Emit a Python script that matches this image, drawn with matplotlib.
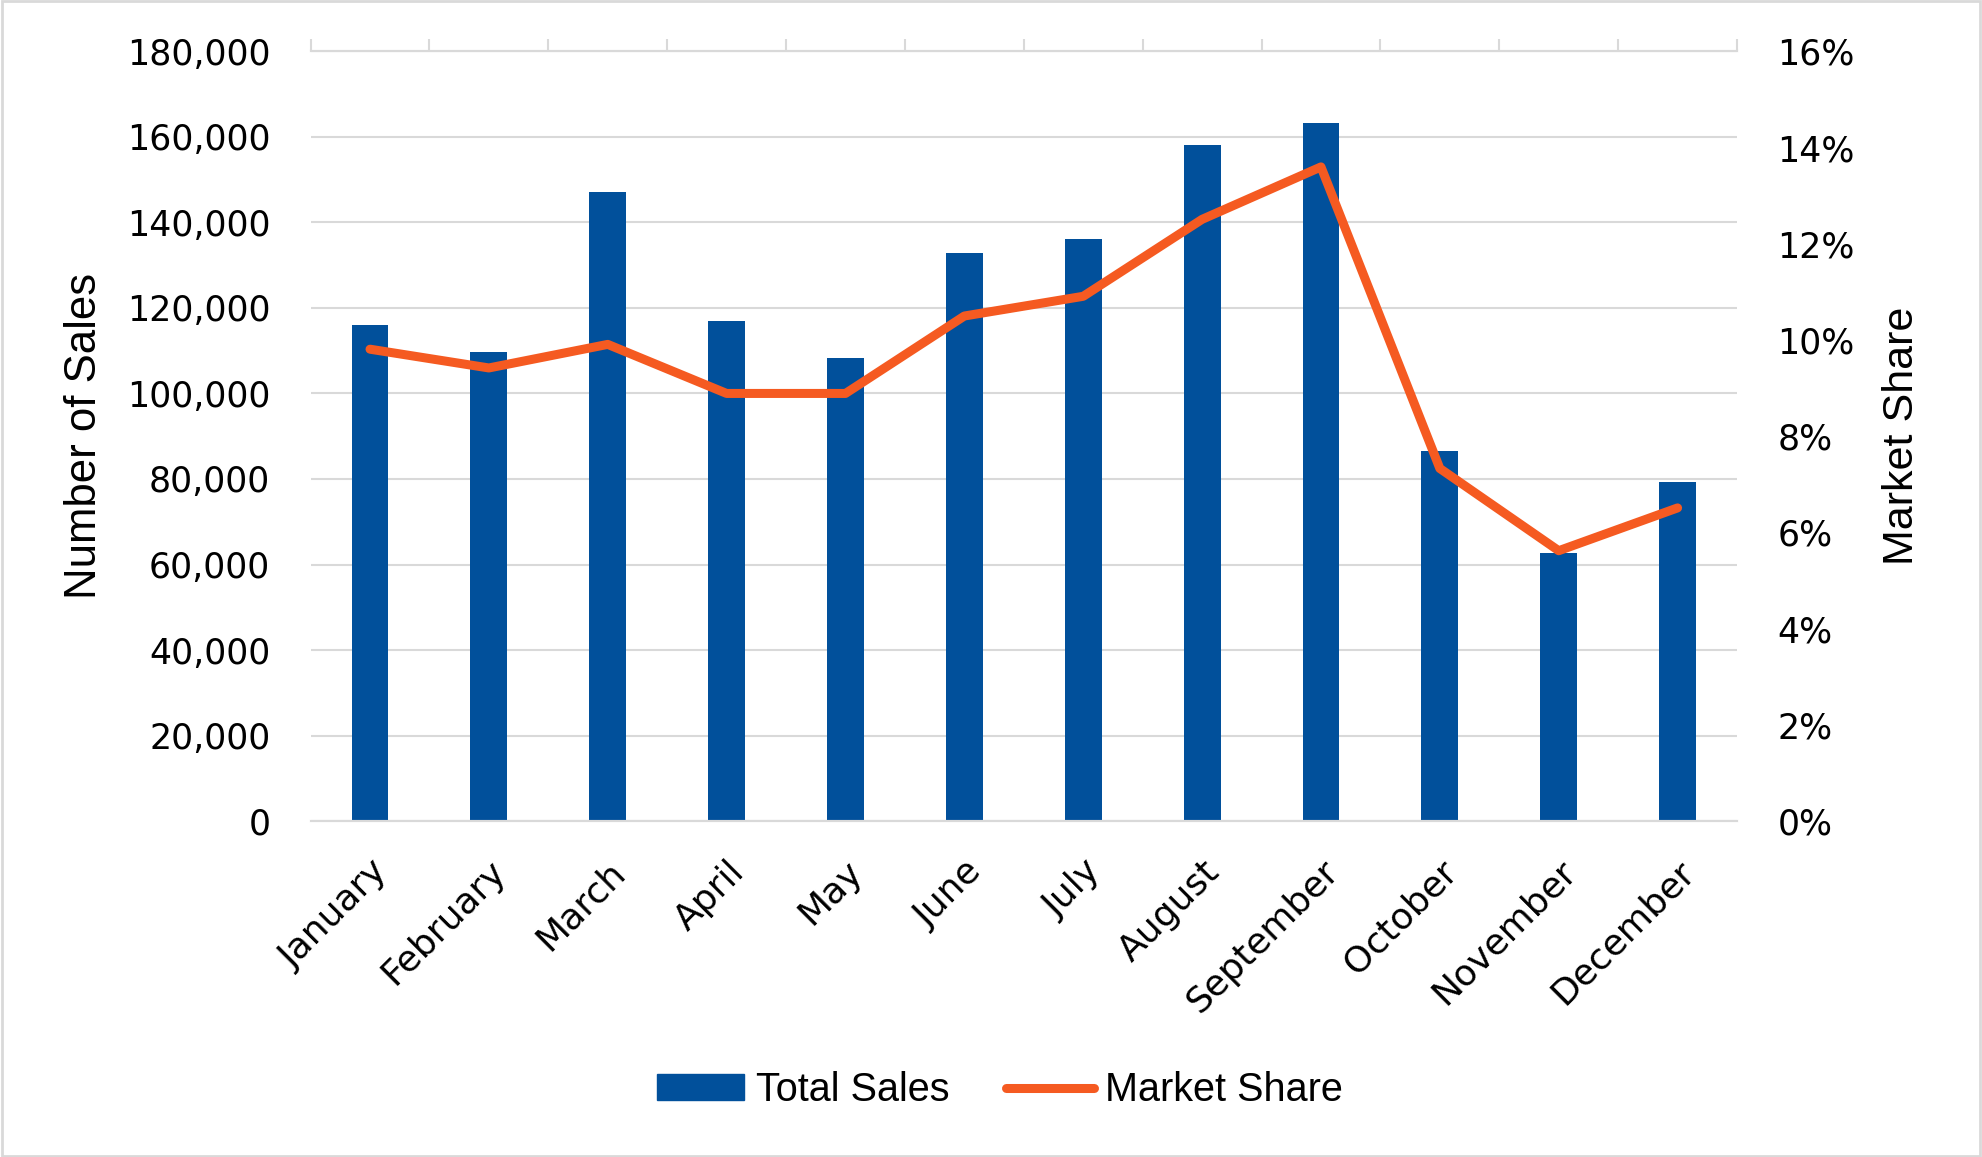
import matplotlib
matplotlib.use("Agg")
import matplotlib.pyplot as plt
import matplotlib.ticker as mticker
import matplotlib.transforms as mtransforms
from matplotlib.patches import Rectangle, Patch
from matplotlib.lines import Line2D

months = ["January", "February", "March", "April", "May", "June", "July",
          "August", "September", "October", "November", "December"]
total_sales = [116100, 109600, 147100, 117000, 108300, 132900, 136100,
               158100, 163200, 86600, 62800, 79400]
market_share = [9.81, 9.42, 9.91, 8.89, 8.89, 10.50, 10.91,
                12.51, 13.60, 7.33, 5.62, 6.51]  # percent

BLUE = "#01509b"
ORANGE = "#f55a21"
GRID = "#d9d9d9"

fig = plt.figure(figsize=(19.82, 11.57), dpi=100)
ax = fig.add_axes([0.1567, 0.2904, 0.8764 - 0.1567, 0.9555 - 0.2904])
ax2 = ax.twinx()

x = list(range(len(months)))
ax.bar(x, total_sales, width=0.31, color=BLUE, zorder=2)
ax2.plot(x, [v / 100 for v in market_share], color=ORANGE, lw=6.5,
         solid_capstyle="round", solid_joinstyle="round", zorder=3)

# axes ranges
ax.set_xlim(-0.5, 11.5)
ax.set_ylim(0, 180000)
ax.yaxis.set_major_locator(mticker.MultipleLocator(20000))
ax.yaxis.set_major_formatter(mticker.FuncFormatter(lambda v, p: f"{int(v):,}"))
ax2.set_ylim(0, 0.16)
ax2.yaxis.set_major_locator(mticker.MultipleLocator(0.02))
ax2.yaxis.set_major_formatter(mticker.PercentFormatter(1.0, decimals=0))

ax.set_axisbelow(True)
ax.grid(axis="y", color=GRID, lw=1.5)
for a in (ax, ax2):
    for s in ("left", "right"):
        a.spines[s].set_visible(False)
    a.spines["top"].set_color(GRID)
    a.spines["bottom"].set_color(GRID)
    a.spines["top"].set_linewidth(1.5)
    a.spines["bottom"].set_linewidth(1.5)

ax.set_xticks(x)
ax.set_xticklabels(months, rotation=45, ha="right", va="top",
                   rotation_mode="anchor", family="DejaVu Sans", size=26)
shift = mtransforms.ScaledTranslation(-0.12, 0.02, fig.dpi_scale_trans)
for lab in ax.get_xticklabels():
    lab.set_transform(lab.get_transform() + shift)
ax.set_xticks([i - 0.5 for i in range(13)], minor=True)
ax.tick_params(axis="x", which="major", length=0, pad=24)
ax.tick_params(axis="x", which="minor", bottom=False, top=True,
               direction="out", length=9, width=1.5, color=GRID)
ax.tick_params(axis="y", length=0, pad=29, labelsize=25)
ax2.tick_params(axis="y", length=0, pad=29, labelsize=25)
for lab in ax.get_yticklabels() + ax2.get_yticklabels():
    lab.set_family("DejaVu Sans")

ax.set_ylabel("Number of Sales", fontsize=31.5, family="Liberation Sans", labelpad=16)
ax2.set_ylabel("Market Share", fontsize=31, family="Liberation Sans", labelpad=20)

handles = [Patch(facecolor=BLUE, edgecolor=BLUE),
           Line2D([0], [0], color=ORANGE, lw=6.5, solid_capstyle="round")]
fig.legend(handles, ["Total Sales", "Market Share"], loc="center",
           bbox_to_anchor=(0.5045, 0.058), ncol=2, frameon=False,
           prop={"family": "Liberation Sans", "size": 28.5},
           handlelength=2.2, handleheight=0.62, handletextpad=0.28,
           columnspacing=1.45)

# thin chart-area border
fig.patches.append(Rectangle((0.001, 0.001), 0.998, 0.998, transform=fig.transFigure,
                             fill=False, edgecolor=GRID, lw=2))

fig.savefig("out.png", dpi=100, facecolor="white")
